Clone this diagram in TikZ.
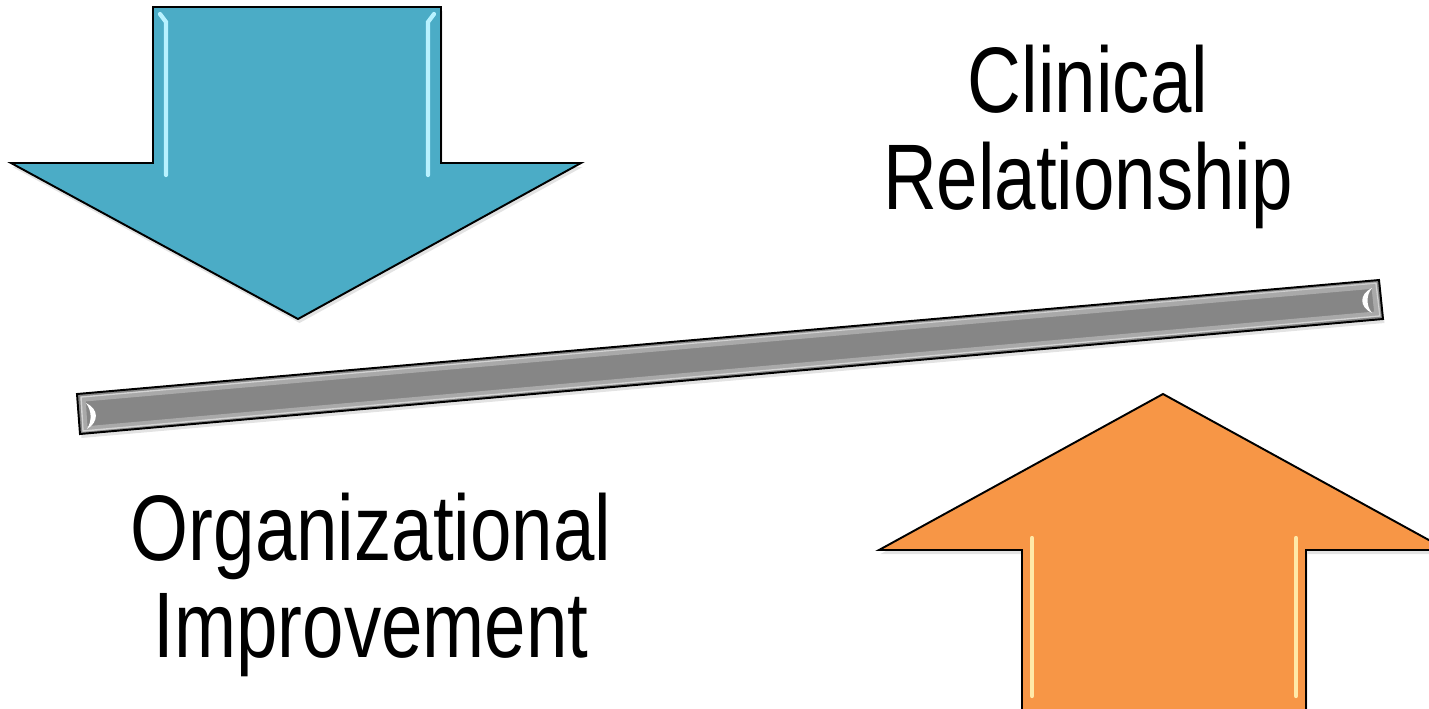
\documentclass[tikz,border=0pt]{standalone}
\usepackage{fontspec}
\setmainfont{Liberation Sans}[FakeStretch=0.8]
\usetikzlibrary{shadows}

\definecolor{aqua}{HTML}{4BACC6}
\definecolor{aquashine}{HTML}{B8F2FF}
\definecolor{tangerine}{HTML}{F79646}
\definecolor{tangerineshine}{HTML}{FFE9A8}
\definecolor{beamgray}{HTML}{868686}

\begin{document}
\begin{tikzpicture}[x=0.02cm, y=-0.02cm,
  blockarrow/.style={draw=black, line width=1.1pt, line join=miter,
    drop shadow={opacity=0.22, shadow xshift=0.03cm, shadow yshift=-0.08cm}},
  shine/.style={line width=2.4pt, line cap=round},
  bigtext/.style={font=\fontsize{53}{55}\selectfont, align=center, inner sep=0pt}]
  \useasboundingbox (0,0) rectangle (1429,708);
  \clip (0,0) rectangle (1429,708);

  % beam
  \draw[blockarrow, fill=beamgray] (77,394) -- (1379,280) -- (1383,319) -- (80,434) -- cycle;
  \draw[line width=3pt, gray!55, opacity=0.7] (83,399) -- (1374,286) -- (1377,314) -- (85,429) -- cycle;
  \draw[line width=0.8pt, white, opacity=0.5] (81,397) -- (1376,283) -- (1380,316) -- (83,431) -- cycle;
  \fill[white] (86,403) .. controls (99,409) and (99,422) .. (87,429)
    .. controls (92,421) and (92,411) .. cycle;
  \fill[white] (1372,288) .. controls (1359,294) and (1359,307) .. (1372,313)
    .. controls (1366,306) and (1366,295) .. cycle;

  % down arrow
  \draw[blockarrow, fill=aqua] (153,7) -- (441,7) -- (441,163) -- (581,163)
    -- (298,319) -- (11,163) -- (153,163) -- cycle;
  \draw[shine, aquashine] (160,14) -- (166,22) -- (166,175);
  \draw[shine, aquashine] (434,14) -- (428,22) -- (428,175);

  % up arrow
  \draw[blockarrow, fill=tangerine] (1022,712) -- (1022,550) -- (879,550) -- (1163,394)
    -- (1447,550) -- (1306,550) -- (1306,712) -- cycle;
  \draw[shine, tangerineshine] (1032,538) -- (1032,696);
  \draw[shine, tangerineshine] (1296,538) -- (1296,696);

  % captions
  \node[bigtext] (clinical) at (1088,137) {Clinical\\Relationship};
  \node[bigtext] (organizational) at (371,585) {Organizational\\Improvement};
\end{tikzpicture}
\end{document}
